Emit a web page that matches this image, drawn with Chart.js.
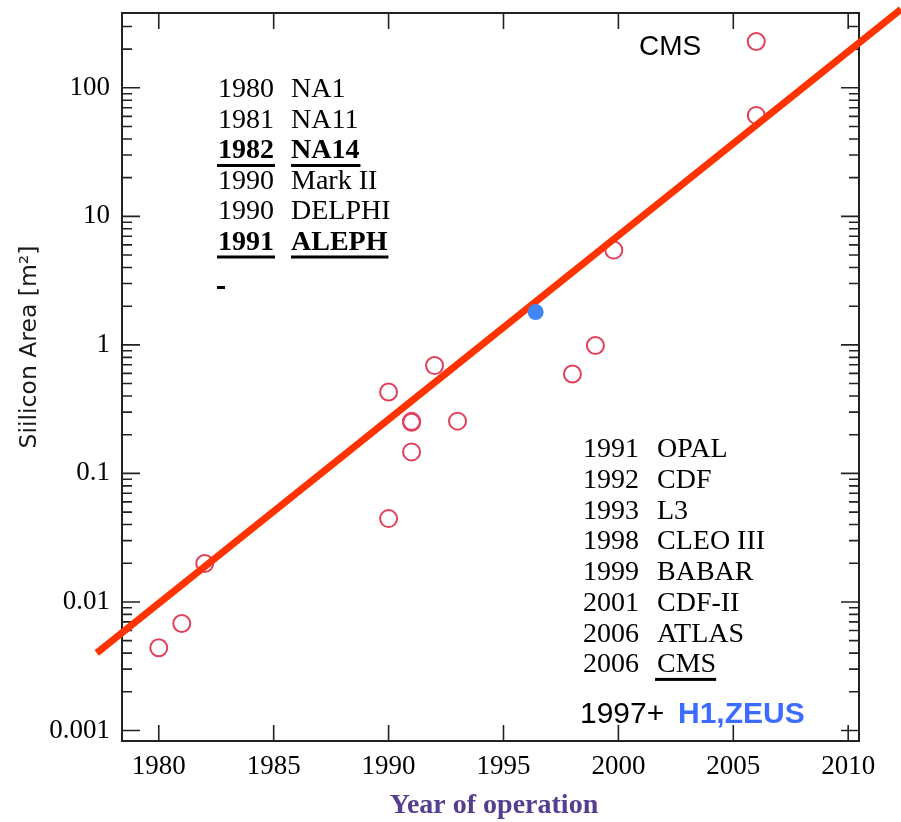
<!DOCTYPE html>
<html>
<head>
<meta charset="utf-8">
<script src="https://cdn.jsdelivr.net/npm/chart.js@4.4.1/dist/chart.umd.min.js"></script>
<style>
  body { margin: 0; background: #fff; }
  #wrap { width: 901px; height: 822px; }
</style>
</head>
<body>
<div id="wrap"><canvas id="chart" width="901" height="822"></canvas></div>
<script>
// detector data (year, silicon area in m2)
const years = [1980, 1981, 1982, 1990, 1990, 1991, 1991, 1991, 1992, 1993, 1998, 1999, 1999.8, 2006, 2006];
const areas = [0.0044, 0.0068, 0.0199, 0.43, 0.0445, 0.254, 0.25, 0.147, 0.69, 0.255, 0.594, 0.99, 5.46, 61, 229];

// exponential trend line
const fitYears = [1977.3, 2012.3];
const fitAreas = [0.0040, 408];

// H1, ZEUS point
const heraYears = [1996.4];
const heraAreas = [1.8];

const xTicks = [1980, 1985, 1990, 1995, 2000, 2005, 2010];
const yTicks = [0.001, 0.01, 0.1, 1, 10, 100];
const yTickLabels = ["0.001", "0.01", "0.1", "1", "10", "100"];

const leftYears = ["1980", "1981", "1982", "1990", "1990", "1991"];
const leftNames = ["NA1", "NA11", "NA14", "Mark II", "DELPHI", "ALEPH"];
const leftBold = [false, false, true, false, false, true];

const rightYears = ["1991", "1992", "1993", "1998", "1999", "2001", "2006", "2006"];
const rightNames = ["OPAL", "CDF", "L3", "CLEO III", "BABAR", "CDF-II", "ATLAS", "CMS"];

const xMin = 1978.4, xMax = 2010.47;
const yMin = 0.000828, yMax = 382;

function toPts(xs, ys) {
  return xs.map((x, i) => ({ x: x, y: ys[i] }));
}

const frame = {
  id: "frame",
  beforeDatasetsDraw(chart) {
    const ctx = chart.ctx;
    const a = chart.chartArea;
    const xs = chart.scales.x, ys = chart.scales.y;
    ctx.save();
    ctx.strokeStyle = "#222";
    ctx.lineWidth = 2;
    ctx.strokeRect(a.left, a.top, a.right - a.left, a.bottom - a.top);

    ctx.lineWidth = 1.6;
    ctx.beginPath();
    xTicks.forEach(v => {
      const p = xs.getPixelForValue(v);
      ctx.moveTo(p, a.bottom); ctx.lineTo(p, a.bottom - 16);
      ctx.moveTo(p, a.top); ctx.lineTo(p, a.top + 16);
    });
    yTicks.forEach(d => {
      const p = ys.getPixelForValue(d);
      ctx.moveTo(a.left, p); ctx.lineTo(a.left + 18, p);
      ctx.moveTo(a.right, p); ctx.lineTo(a.right - 18, p);
      for (let m = 2; m <= 9; m++) {
        const v = m * d;
        if (v > yMax) break;
        const q = ys.getPixelForValue(v);
        ctx.moveTo(a.left, q); ctx.lineTo(a.left + 10, q);
        ctx.moveTo(a.right, q); ctx.lineTo(a.right - 10, q);
      }
    });
    ctx.stroke();

    // axis titles
    ctx.fillStyle = "#1a1a1a";
    ctx.font = "23.5px 'DejaVu Sans'";
    ctx.textAlign = "center";
    ctx.textBaseline = "middle";
    ctx.save();
    ctx.translate(30, 347);
    ctx.rotate(-Math.PI / 2);
    ctx.fillText("Siilicon Area [m²]", 0, 0);
    ctx.restore();

    ctx.fillStyle = "#553d8f";
    ctx.font = "bold 28px 'Liberation Serif'";
    ctx.fillText("Year of operation", 494, 806);

    // experiment lists
    ctx.textAlign = "left";
    ctx.fillStyle = "#000";
    leftYears.forEach((yr, i) => {
      const y = 90 + i * 30.5;
      ctx.font = (leftBold[i] ? "bold " : "") + "28px 'Liberation Serif'";
      ctx.fillText(yr, 218, y);
      ctx.fillText(leftNames[i], 291, y);
      if (leftBold[i]) {
        ctx.fillRect(217, y + 13, ctx.measureText(yr).width + 2, 3);
        ctx.fillRect(291, y + 13, ctx.measureText(leftNames[i]).width + 1, 3);
      }
    });
    ctx.fillRect(217, 286, 8, 3);

    ctx.font = "28px 'Liberation Serif'";
    rightYears.forEach((yr, i) => {
      const y = 450 + i * 30.7;
      ctx.fillText(yr, 583, y);
      ctx.fillText(rightNames[i], 657, y);
      if (rightNames[i] === "CMS") {
        ctx.fillRect(655, y + 13, ctx.measureText("CMS").width + 2, 3);
      }
    });

    ctx.font = "30px 'Liberation Sans'";
    ctx.fillText("1997+", 580, 715);
    ctx.fillStyle = "#3d6bff";
    ctx.font = "bold 30px 'Liberation Sans'";
    ctx.fillText("H1,ZEUS", 678, 715);

    ctx.fillStyle = "#000";
    ctx.font = "28px 'Liberation Sans'";
    ctx.fillText("CMS", 639, 47);
    ctx.restore();
  }
};

const config = {
  type: "scatter",
  data: {
    datasets: [
      {
        label: "fit",
        data: toPts(fitYears, fitAreas),
        showLine: true,
        borderColor: "#ff3300",
        borderWidth: 7,
        pointRadius: 0,
        clip: false,
        order: 1,
      },
      {
        label: "detectors",
        data: toPts(years, areas),
        pointRadius: 8.5,
        pointBorderWidth: 2,
        pointBorderColor: "#e2405a",
        pointBackgroundColor: "rgba(0,0,0,0)",
        order: 2,
      },
      {
        label: "H1,ZEUS",
        data: toPts(heraYears, heraAreas),
        pointRadius: 8,
        pointBorderWidth: 0,
        pointBackgroundColor: "#4285f4",
        order: 0,
      },
    ],
  },
  options: {
    responsive: false,
    animation: false,
    events: [],
    layout: { padding: { top: 13, right: 42, left: 0, bottom: 0 } },
    plugins: { legend: { display: false }, tooltip: { enabled: false } },
    scales: {
      x: {
        type: "linear",
        min: xMin,
        max: xMax,
        grid: { display: false, drawTicks: false },
        border: { display: false },
        afterBuildTicks: s => { s.ticks = xTicks.map(v => ({ value: v })); },
        afterFit: s => { s.height = 81; s.paddingLeft = 0; s.paddingRight = 0; },
        ticks: {
          padding: 10,
          color: "#000",
          font: { family: "'Liberation Serif'", size: 27 },
          maxRotation: 0,
          callback: v => String(v),
        },
      },
      y: {
        type: "logarithmic",
        min: yMin,
        max: yMax,
        grid: { display: false, drawTicks: false },
        border: { display: false },
        afterBuildTicks: s => { s.ticks = yTicks.map(v => ({ value: v })); },
        afterFit: s => { s.width = 122; s.paddingTop = 0; s.paddingBottom = 0; },
        ticks: {
          padding: 12,
          color: "#000",
          font: { family: "'Liberation Serif'", size: 27 },
          callback: (v, i) => yTickLabels[i],
        },
      },
    },
  },
  plugins: [frame],
};

const myChart = new Chart(document.getElementById("chart"), config);
</script>
</body>
</html>
